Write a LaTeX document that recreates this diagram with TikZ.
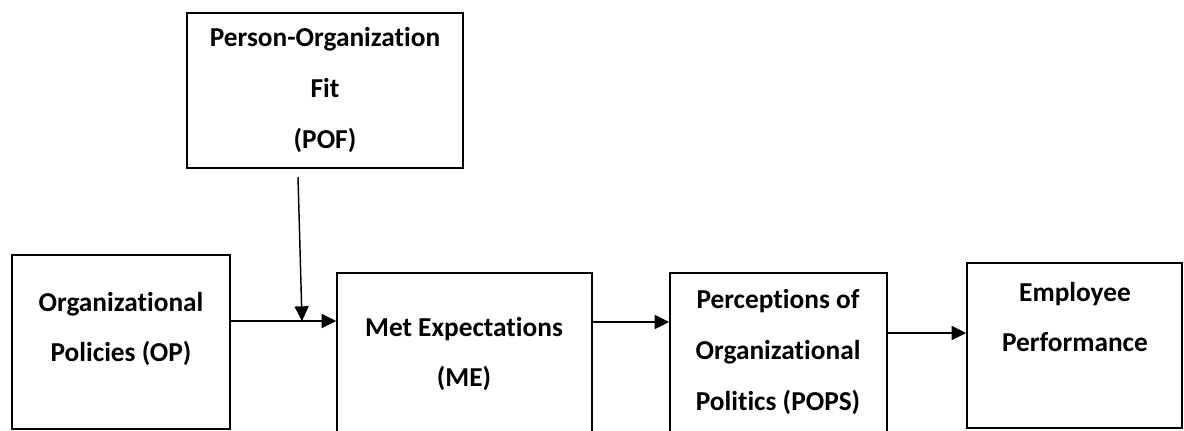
\documentclass[tikz,border=0pt]{standalone}
\usepackage{fontspec}
\setmainfont{Carlito}[Ligatures=NoCommon]
\usetikzlibrary{arrows.meta,positioning,fit}

\begin{document}
\begin{tikzpicture}[x = .75pt, y = -.75pt,
  every node/.style={anchor = center, font = \bfseries\fontsize{20.5}{38}\selectfont},
  box/.style={draw, line width = 1.1pt, inner sep = 0pt},
  lbl/.style={align = center, inner sep = 0pt},
  arr/.style={line width = 1.1pt, -{Triangle[length = 11pt, width = 10.5pt]}}]
\useasboundingbox (0,0) rectangle (1184,431);
\clip (0,0) rectangle (1184,431);
% boxes
\node[box, fit = {(187,13) (463,168)}] (pof) {};
\node[box, fit = {(12,255) (230,429)}] (op) {};
\node[box, fit = {(337,273) (592,470)}] (me) {};
\node[box, fit = {(670,273) (887,470)}] (pops) {};
\node[box, fit = {(967,263) (1182,428)}] (ep) {};
% labels
\node[lbl] (poft) at (325,90) {Person-Organization\\Fit\\(POF)};
\node[lbl] (opt) at (121,329) {Organizational\\Policies (OP)};
\node[lbl] (met) at (464,354) {Met Expectations\\(ME)};
\node[lbl] (popst) at (778,352) {Perceptions of\\Organizational\\Politics (POPS)};
\node[lbl] (ept) at (1075,317) {Employee\\Performance};
% arrows
\coordinate (pofout) at (298,177);
\coordinate (join) at (302,321);
\draw[arr] (pofout) -- (join);
\draw[arr] (op.east |- join) -- (me.west |- join);
\draw[arr] (me.east |- 0,322) -- (pops.west |- 0,322);
\draw[arr] (pops.east |- 0,333) -- (ep.west |- 0,333);
\end{tikzpicture}
\end{document}
